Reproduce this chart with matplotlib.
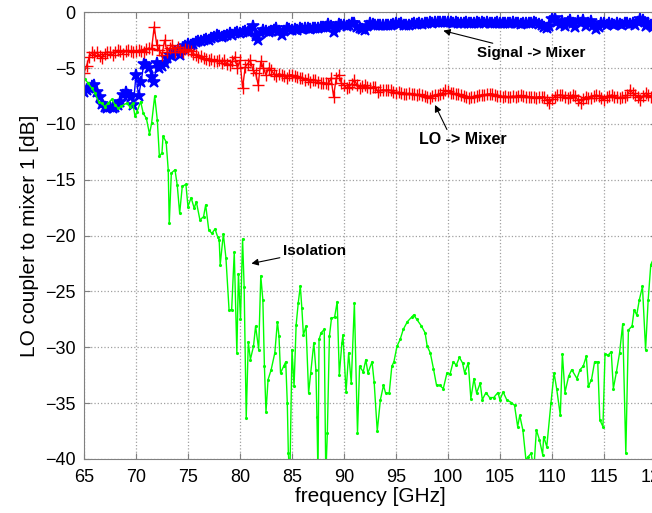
import matplotlib
matplotlib.use("Agg")
import matplotlib.pyplot as plt
import numpy as np

plt.rcParams['font.family'] = ['Liberation Sans', 'DejaVu Sans']

# frequency grid of the two marker traces (GHz)
freq = np.arange(65.0, 120.001, 0.25)

# Signal -> Mixer (blue, dB)
signal_mixer = [
    -7.1, -7.0, -6.8, -6.6, -6.5, -7.1, -7.6, -8.2, -8.5, -8.6, -8.5, -8.6, -8.5, -8.3, -8.0, -7.4, -7.1, -7.4, -7.6, -8.3,
    -5.6, -7.5, -6.2, -4.6, -4.7, -5.0, -5.8, -6.2, -4.5, -5.0, -4.8, -4.5, -4.1, -3.8, -3.9, -3.6, -3.4, -3.8, -3.3, -3.0,
    -2.8, -2.9, -2.8, -2.7, -2.6, -2.6, -2.5, -2.4, -2.5, -2.3, -2.2, -2.0, -2.1, -2.2, -2.1, -2.0, -1.9, -2.0, -1.9, -1.8,
    -1.9, -1.8, -1.7, -1.75, -1.6, -1.2, -2.1, -2.5, -1.9, -1.6, -1.7, -1.8, -1.7, -1.6, -1.45, -1.7, -2.0, -1.7, -1.45, -1.5,
    -1.6, -1.5, -1.6, -1.4, -1.5, -1.45, -1.4, -1.5, -1.45, -1.4, -1.45, -1.3, -1.35, -1.3, -1.05, -1.2, -1.75, -1.3, -1.05, -1.1,
    -1.15, -1.2, -1.1, -1.0, -1.0, -1.3, -1.45, -1.5, -1.6, -1.2, -1.0, -1.05, -1.1, -1.15, -1.1, -1.15, -1.1, -1.15, -1.1, -1.05,
    -1.0, -1.05, -1.0, -1.1, -1.1, -1.1, -1.05, -1.0, -1.05, -1.0, -1.05, -0.95, -0.95, -0.9, -0.95, -0.9, -0.85, -0.9, -0.85, -0.85,
    -0.85, -0.9, -0.95, -0.9, -0.95, -1.0, -0.95, -0.9, -0.95, -1.0, -0.95, -0.9, -0.95, -0.9, -0.95, -0.9, -0.95, -1.0, -0.95, -0.9,
    -0.95, -1.0, -0.95, -1.0, -0.95, -0.9, -0.95, -1.0, -1.05, -1.0, -0.95, -1.0, -0.95, -0.9, -1.0, -1.05, -1.1, -1.3, -1.4, -1.2,
    -0.6, -0.5, -0.9, -1.1, -0.8, -1.2, -0.9, -0.7, -1.0, -1.3, -0.8, -1.0, -0.7, -1.2, -1.0, -0.8, -1.1, -1.5, -1.3, -1.0,
    -1.0, -1.1, -0.95, -1.05, -1.1, -1.0, -1.05, -1.1, -1.0, -0.95, -1.05, -1.0, -1.1, -0.9, -0.6, -0.7, -1.2, -1.0, -1.1, -1.3,
    -1.0,
]

# LO -> Mixer (red, dB)
lo_mixer = [
    -5.4, -4.8, -4.0, -3.6, -3.85, -3.6, -3.9, -4.1, -3.7, -3.55, -3.6, -3.85, -3.6, -3.4, -3.5, -3.7, -3.5, -3.4, -3.5, -3.55,
    -3.5, -3.4, -3.5, -3.55, -3.3, -3.2, -3.3, -1.3, -2.9, -3.4, -3.85, -2.5, -3.55, -3.2, -2.9, -3.55, -3.1, -3.4, -3.55, -3.3,
    -3.4, -3.5, -3.7, -3.8, -4.0, -3.9, -4.1, -4.2, -4.3, -4.2, -4.4, -4.4, -4.3, -4.5, -4.3, -4.6, -4.7, -4.4, -4.0, -5.0,
    -4.3, -6.8, -4.9, -4.6, -4.3, -5.2, -5.45, -6.5, -4.4, -5.0, -5.6, -5.0, -5.2, -5.5, -5.75, -5.5, -5.6, -5.7, -5.9, -5.6,
    -5.6, -5.75, -5.8, -5.9, -5.9, -6.05, -6.0, -6.2, -6.1, -6.05, -6.2, -6.35, -6.3, -6.35, -6.4, -5.9, -7.55, -5.9, -5.6, -6.35,
    -6.5, -6.8, -6.65, -6.4, -6.05, -6.5, -6.8, -6.6, -6.5, -6.7, -6.8, -6.7, -6.65, -7.1, -7.0, -6.95, -7.0, -6.95, -7.0, -7.1,
    -7.2, -7.15, -7.25, -7.3, -7.3, -7.25, -7.3, -7.35, -7.4, -7.35, -7.45, -7.5, -7.55, -7.65, -7.5, -7.4, -7.4, -7.35, -7.2, -7.0,
    -7.05, -7.2, -7.25, -7.3, -7.35, -7.4, -7.5, -7.6, -7.7, -7.6, -7.55, -7.5, -7.45, -7.4, -7.4, -7.35, -7.3, -7.3, -7.4, -7.5,
    -7.5, -7.55, -7.5, -7.6, -7.55, -7.5, -7.55, -7.5, -7.45, -7.5, -7.55, -7.6, -7.55, -7.6, -7.65, -7.55, -7.6, -7.55, -7.9, -8.15,
    -7.8, -7.55, -7.45, -7.4, -7.45, -7.6, -7.7, -7.55, -7.4, -7.5, -7.9, -8.15, -7.8, -7.55, -7.65, -7.7, -7.5, -7.4, -7.5, -7.7,
    -7.85, -7.6, -7.5, -7.4, -7.55, -7.6, -7.7, -7.6, -7.6, -7.4, -6.95, -7.2, -7.4, -7.6, -7.85, -7.5, -7.25, -7.4, -7.55, -7.5,
    -7.5,
]

# Isolation (green): frequency / dB pairs
iso_freq = [
    65.1, 65.4, 65.74, 66.06, 66.4, 66.7, 67.0, 67.34, 67.66, 68.0, 68.3, 68.6, 69.1, 69.4, 69.7, 69.9,
    70.1, 70.45, 70.7, 71.0, 71.3, 71.5, 71.8, 72.05, 72.25, 72.5, 72.6, 72.9, 73.1, 73.2, 73.4, 73.75,
    73.97, 74.2, 74.45, 74.8, 75.0, 75.3, 75.6, 75.8, 76.15, 76.5, 76.7, 77.0, 77.3, 77.6, 77.85, 78.0,
    78.1, 78.4, 78.65, 78.95, 79.2, 79.45, 79.7, 79.85, 80.05, 80.25, 80.4, 80.6, 80.8, 81.0, 81.3, 81.5,
    81.8, 82.0, 82.2, 82.35, 82.5, 82.7, 83.0, 83.35, 83.6, 83.75, 83.9, 84.2, 84.4, 84.55, 84.65, 84.8,
    85.0, 85.2, 85.4, 85.6, 85.8, 85.95, 86.1, 86.35, 86.6, 86.8, 87.1, 87.3, 87.4, 87.5, 87.6, 87.8,
    88.1, 88.25, 88.4, 88.6, 88.8, 89.1, 89.35, 89.55, 89.8, 89.9, 90.2, 90.45, 90.7, 91.0, 91.3, 91.5,
    91.85, 92.1, 92.3, 92.7, 92.9, 93.2, 93.5, 93.8, 94.0, 94.35, 94.6, 94.8, 95.1, 95.4, 95.7, 96.1,
    96.5, 96.7, 97.0, 97.45, 97.8, 98.0, 98.3, 98.6, 98.9, 99.2, 99.55, 99.9, 100.2, 100.5, 100.8, 101.1,
    101.4, 101.6, 101.95, 102.2, 102.5, 102.75, 103.1, 103.3, 103.65, 104.0, 104.4, 104.8, 105.0, 105.3, 105.65, 106.1,
    106.4, 106.7, 106.9, 107.2, 107.5, 107.7, 108.0, 108.25, 108.5, 108.8, 109.1, 109.2, 109.5, 109.9, 110.2, 110.45,
    110.8, 111.0, 111.25, 111.6, 111.9, 112.4, 112.7, 113.0, 113.3, 113.5, 113.8, 114.1, 114.4, 114.6, 114.9, 115.1,
    115.4, 115.7, 115.9, 116.2, 116.5, 116.8, 117.1, 117.35, 117.7, 117.9, 118.15, 118.4, 118.7, 119.0, 119.25, 119.5,
    119.8,
]
iso_db = [
    -6.0, -6.36, -6.8, -7.25, -8.0, -8.15, -8.45, -8.15, -7.8, -8.3, -8.6, -8.4, -8.15, -8.45, -8.15, -9.3,
    -8.9, -8.0, -9.05, -9.5, -10.9, -9.95, -7.5, -9.65, -12.9, -12.6, -11.1, -11.6, -14.1, -18.9, -14.4, -14.1,
    -15.5, -18.0, -15.6, -15.4, -17.4, -16.6, -17.55, -16.95, -18.6, -18.3, -17.25, -19.5, -19.8, -19.4, -20.1, -20.4,
    -22.6, -19.85, -22.0, -26.65, -26.65, -21.5, -30.5, -23.4, -27.5, -20.3, -24.6, -36.35, -29.5, -31.1, -29.9, -28.1,
    -30.2, -23.6, -25.75, -31.7, -35.8, -32.9, -32.0, -30.5, -27.7, -29.0, -32.3, -31.7, -31.3, -35.0, -39.5, -41.5,
    -30.2, -33.5, -28.0, -26.05, -24.5, -26.5, -28.9, -28.1, -34.1, -32.3, -29.6, -32.0, -36.2, -41.5, -29.3, -28.7,
    -28.4, -41.5, -37.7, -29.0, -27.4, -27.3, -25.9, -32.5, -29.6, -28.9, -34.0, -30.5, -33.2, -26.05, -37.7, -31.7,
    -32.2, -31.1, -32.3, -31.3, -33.1, -37.5, -34.7, -33.4, -34.1, -34.1, -31.7, -31.3, -29.9, -29.3, -28.4, -27.7,
    -27.3, -27.1, -27.5, -28.1, -28.7, -29.9, -30.5, -31.9, -33.4, -33.4, -33.7, -32.3, -32.4, -31.3, -31.6, -30.9,
    -31.4, -32.3, -31.4, -34.6, -32.8, -34.1, -33.2, -34.7, -34.05, -34.5, -34.5, -34.05, -34.7, -34.0, -34.7, -34.95,
    -35.2, -37.1, -36.1, -37.4, -40.1, -39.8, -39.5, -41.0, -37.4, -38.3, -39.6, -38.0, -38.9, -35.0, -32.3, -33.7,
    -36.1, -30.6, -34.05, -32.6, -32.0, -32.8, -32.0, -31.7, -30.8, -33.5, -32.9, -31.3, -31.3, -36.5, -37.1, -30.6,
    -30.7, -30.4, -33.7, -32.2, -30.5, -27.9, -39.5, -28.45, -28.1, -26.65, -27.1, -25.75, -24.55, -30.2, -25.75, -22.6,
    -22.0,
]

fig = plt.figure(figsize=(6.52, 5.13), dpi=100)
ax = fig.add_axes([0.1288, 0.1053, 0.8773, 0.8708])

ax.plot(freq, signal_mixer, color='#0000ff', marker='*', markersize=9, markeredgewidth=1.2, linewidth=1)
ax.plot(freq, lo_mixer, color='#ff0000', marker='+', markersize=8.5, markeredgewidth=1.0, linewidth=1)
ax.plot(iso_freq, iso_db, color='#00ff00', marker='.', markersize=2.5, linewidth=1)

ax.set_xlim(65, 120)
ax.set_ylim(-40, 0)
ax.set_xticks(np.arange(65, 121, 5))
ax.set_yticks(np.arange(-40, 1, 5))
ax.tick_params(direction='in', top=True, right=True, labelsize=13, color='#808080', length=4)
ax.tick_params(axis='x', pad=7)
ax.tick_params(axis='y', pad=6)
for s in ax.spines.values():
    s.set_color('#808080')
ax.grid(True, linestyle=':', color='#a0a0a0', linewidth=0.9)

ax.set_xlabel('frequency [GHz]', fontsize=15, labelpad=1)
ax.set_ylabel('LO coupler to mixer 1 [dB]', fontsize=15, labelpad=4)

arrow = dict(arrowstyle='-|>', color='black', lw=0.8, mutation_scale=10, shrinkA=0, shrinkB=0)
ax.annotate('Signal -> Mixer', xy=(99.55, -1.65), xytext=(102.8, -3.65),
            fontsize=11, fontweight='bold', va='center', ha='left', arrowprops=arrow)
ax.annotate('', xy=(98.75, -8.3), xytext=(99.9, -10.5), arrowprops=arrow)
ax.text(101.4, -11.43, 'LO -> Mixer', fontsize=11.5, fontweight='bold', va='center', ha='center')
ax.annotate('Isolation', xy=(81.1, -22.5), xytext=(84.1, -21.35),
            fontsize=11, fontweight='bold', va='center', ha='left', arrowprops=arrow)

fig.savefig('out.png', dpi=100)
